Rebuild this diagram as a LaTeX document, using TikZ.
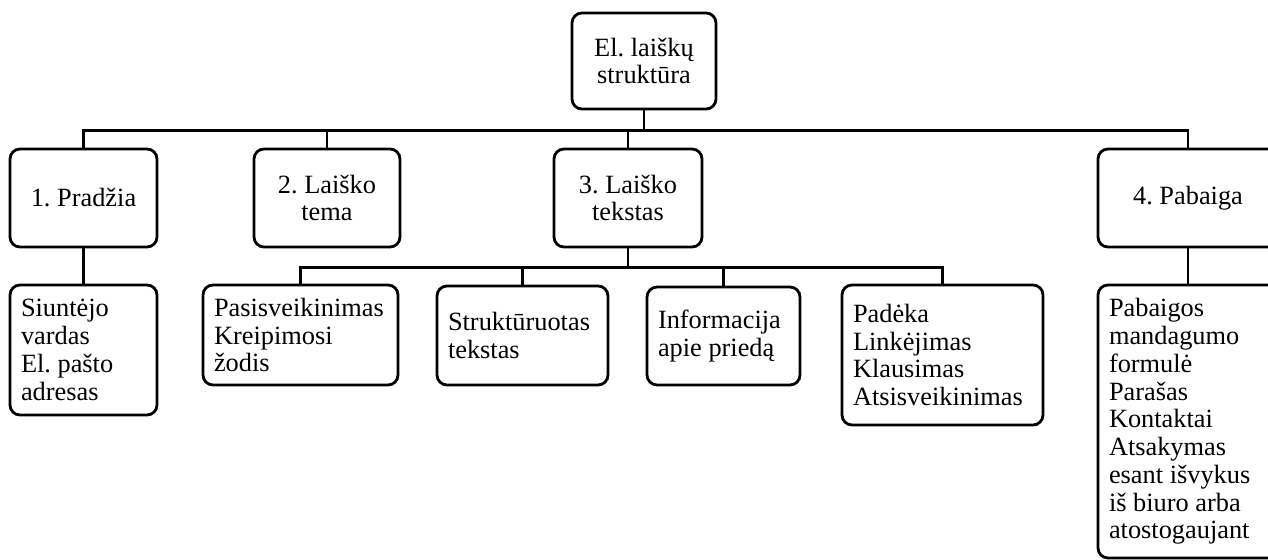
\documentclass[tikz,border=0pt]{standalone}
\usepackage{fontspec}
\setmainfont{Liberation Serif}
\usepackage{tikz}
\usetikzlibrary{calc}
\newdimen\pxu \pxu=0.02cm
\frenchspacing

\begin{document}
\begin{tikzpicture}[x=0.02cm, y=-0.02cm,
  box/.style={draw, line width=1.6pt, rounded corners=0.2cm,
    font=\fontsize{15}{15.8}\selectfont\frenchspacing, inner ysep=0pt},
  headbox/.style={box, align=flush center, inner xsep=0pt},
  itembox/.style={box, align=flush left, inner xsep=11\pxu},
  link/.style={line width=1.5pt}]
  \useasboundingbox (0,0) rectangle (1268,560);

  % Root
  \node[headbox, minimum width=144\pxu, minimum height=96\pxu] (root) at (644,61)
    {El. laiškų\\struktūra};

  % Main parts
  \node[headbox, minimum width=147\pxu, minimum height=98\pxu] (pradzia) at (83.5,198)
    {1. Pradžia};
  \node[headbox, minimum width=146\pxu, minimum height=98\pxu] (tema) at (327,198)
    {2. Laiško\\tema};
  \node[headbox, minimum width=148\pxu, minimum height=98\pxu] (tekstas) at (628,198)
    {3. Laiško\\tekstas};
  \node[headbox, minimum width=180\pxu, minimum height=98\pxu] (pabaiga) at (1188,198)
    {4. Pabaiga};

  % Details
  \node[itembox, text width=125\pxu, minimum height=130\pxu] (siuntejo) at (83.5,350)
    {Siuntėjo\\vardas\\El. pašto\\adresas};
  \node[itembox, text width=173\pxu, minimum height=100\pxu] (pasisv) at (300.5,335)
    {Pasisveikinimas\\Kreipimosi\\žodis};
  \node[itembox, text width=149\pxu, minimum height=99\pxu] (strukt) at (522.5,335.5)
    {Struktūruotas\\tekstas};
  \node[itembox, text width=131\pxu, minimum height=98\pxu] (inform) at (723.5,336)
    {Informacija\\apie priedą};
  \node[itembox, text width=179\pxu, minimum height=140\pxu] (padeka) at (942.5,355)
    {Padėka\\Linkėjimas\\Klausimas\\Atsisveikinimas};
  \node[itembox, text width=158\pxu, minimum height=273\pxu] (pabaigos) at (1188,421.5)
    {Pabaigos\\mandagumo\\formulė\\Parašas\\Kontaktai\\Atsakymas\\esant išvykus\\iš biuro arba\\atostogaujant};

  % Connectors
  \draw[link] (root.south) -- ++(0,20) coordinate (busA);
  \foreach \n in {pradzia,tema,tekstas,pabaiga}
    \draw[link] (busA) -| (\n.north);
  \draw[link] (tekstas.south) -- ++(0,19) coordinate (busB);
  \foreach \n in {pasisv,strukt,inform,padeka}
    \draw[link] (busB) -| (\n.north);
  \draw[link] (pradzia) -- (siuntejo);
  \draw[link] (pabaiga) -- (pabaigos);
\end{tikzpicture}
\end{document}
